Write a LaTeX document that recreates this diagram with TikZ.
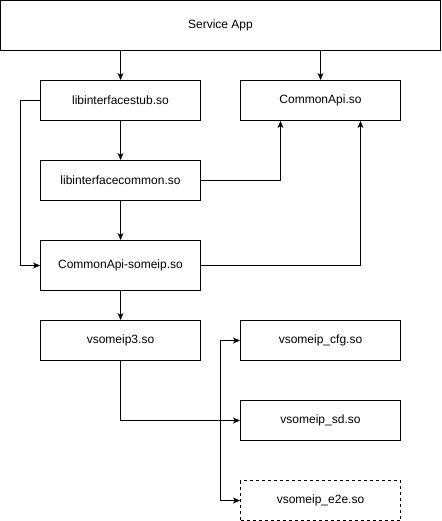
\documentclass[tikz,border=0pt]{standalone}
\usepackage{fontspec}
\setmainfont{Liberation Sans}
\usetikzlibrary{arrows.meta,calc}
\begin{document}
\begin{tikzpicture}[x=1pt,y=-1pt,
  box/.style={draw,line width=1pt,minimum width=160pt,minimum height=40pt,inner sep=0pt,font=\fontsize{12}{14}\selectfont},
  arr/.style={line width=1pt,-{Stealth[length=7pt,width=6pt,inset=2pt]}}]
\useasboundingbox (-0.5,-0.5) rectangle (440.5,520.5);
\node[box,minimum width=440pt,minimum height=50pt] (app) at (220,25) {Service App};
\node[box] (stub) at (120,100) {libinterfacestub.so};
\node[box] (capi) at (320,100) {CommonApi.so};
\node[box] (common) at (120,180) {libinterfacecommon.so};
\node[box,minimum height=50pt] (someip) at (120,265) {CommonApi-someip.so};
\node[box] (v3) at (120,340) {vsomeip3.so};
\node[box] (cfg) at (320,340) {vsomeip\_cfg.so};
\node[box] (sd) at (320,420) {vsomeip\_sd.so};
\node[box,dashed] (e2e) at (320,500) {vsomeip\_e2e.so};
\draw[arr] (app.south -| stub) -- (stub.north);
\draw[arr] (app.south -| capi) -- (capi.north);
\draw[arr] (stub) -- (common);
\draw[arr] (stub.west) -- ++(-20,0) |- (someip.west);
\draw[arr] (common.east) -| ([xshift=-40pt]capi.south);
\draw[arr] (common) -- (someip);
\draw[arr] (someip.east) -| ([xshift=40pt]capi.south);
\draw[arr] (someip) -- (v3);
\draw[arr] (v3.south) |- (sd.west);
\draw[arr] ([xshift=-20pt]sd.west) |- (cfg.west);
\draw[arr] ([xshift=-20pt]sd.west) |- (e2e.west);
\end{tikzpicture}
\end{document}
